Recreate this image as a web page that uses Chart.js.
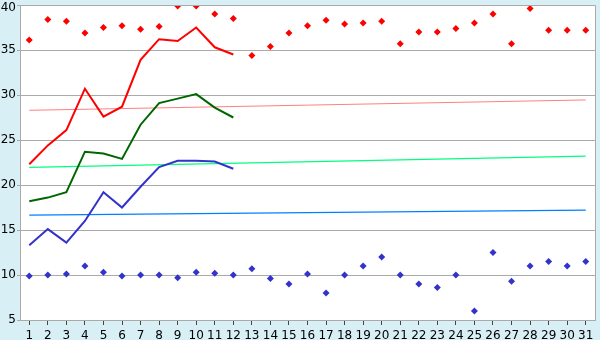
<!DOCTYPE html>
<html>
<head>
<meta charset="utf-8">
<script src="https://cdn.jsdelivr.net/npm/chart.js@4"></script>
<style>
  html, body { margin: 0; padding: 0; background: #d9eff6; }
  #wrap { width: 600px; height: 340px; }
</style>
</head>
<body>
<div id="wrap"><canvas id="myChart" width="600" height="340"></canvas></div>
<script>
const days = ['1','2','3','4','5','6','7','8','9','10','11','12','13','14','15','16','17','18','19','20','21','22','23','24','25','26','27','28','29','30','31'];

// lines (first 12 days)
const redLine   = [22.3, 24.4, 26.1, 30.7, 27.6, 28.7, 33.9, 36.2, 36.0, 37.5, 35.3, 34.5];
const greenLine = [18.2, 18.6, 19.2, 23.7, 23.5, 22.9, 26.7, 29.1, 29.6, 30.1, 28.6, 27.5];
const blueLine  = [13.3, 15.1, 13.6, 16.0, 19.2, 17.5, 19.8, 22.0, 22.7, 22.7, 22.6, 21.8];

// point series (all days)
const redPoints  = [36.1, 38.4, 38.2, 36.9, 37.5, 37.7, 37.3, 37.6, 39.9, 39.9, 39.0, 38.5, 34.4, 35.4, 36.9, 37.7,
                    38.3, 37.9, 38.0, 38.2, 35.7, 37.0, 37.0, 37.4, 38.0, 39.0, 35.7, 39.6, 37.2, 37.2, 37.2];
const bluePoints = [9.9, 10.0, 10.1, 11.0, 10.3, 9.9, 10.0, 10.0, 9.7, 10.3, 10.2, 10.0, 10.7, 9.6, 9.0, 10.1,
                    8.0, 10.0, 11.0, 12.0, 10.0, 9.0, 8.6, 10.0, 6.0, 12.5, 9.3, 11.0, 11.5, 11.0, 11.5];

// trend lines: value at day 1 and day 31
const redTrend   = [28.3, 29.45];
const greenTrend = [21.95, 23.2];
const blueTrend  = [16.65, 17.2];

const yTicks = [5, 10, 15, 20, 25, 30, 35, 40];

function ends(arr) {
  return [{x: days[0], y: arr[0]}, {x: days[days.length - 1], y: arr[1]}];
}

const plotBox = {
  id: 'plotBox',
  beforeDraw(chart) {
    const {ctx, chartArea: a} = chart;
    ctx.save();
    ctx.fillStyle = '#ffffff';
    ctx.fillRect(a.left, a.top, a.right - a.left, a.bottom - a.top);
    ctx.restore();
  },
  afterDraw(chart) {
    const {ctx, chartArea: a} = chart;
    ctx.save();
    ctx.strokeStyle = '#aaaaaa';
    ctx.lineWidth = 1;
    ctx.beginPath();
    ctx.moveTo(a.left, a.top + 0.5);
    ctx.lineTo(a.right + 0.5, a.top + 0.5);
    ctx.lineTo(a.right + 0.5, a.bottom);
    ctx.stroke();
    ctx.restore();
  }
};

const ctx = document.getElementById('myChart');
const topVal = yTicks[yTicks.length - 1];

new Chart(ctx, {
  type: 'line',
  data: {
    labels: days,
    datasets: [
      { data: redPoints, showLine: false, pointStyle: 'rectRot', pointRadius: 3.5,
        pointBackgroundColor: '#ff0000', pointBorderColor: '#ff0000', borderWidth: 0 },
      { data: bluePoints, showLine: false, pointStyle: 'rectRot', pointRadius: 3.5,
        pointBackgroundColor: '#3333cc', pointBorderColor: '#3333cc', borderWidth: 0 },
      { data: redLine, borderColor: '#ff0000', borderWidth: 2, pointRadius: 0, tension: 0 },
      { data: greenLine, borderColor: '#006600', borderWidth: 2, pointRadius: 0, tension: 0 },
      { data: blueLine, borderColor: '#3333cc', borderWidth: 2, pointRadius: 0, tension: 0 },
      { data: ends(redTrend), borderColor: '#ff8080', borderWidth: 1, pointRadius: 0 },
      { data: ends(greenTrend), borderColor: '#00ff80', borderWidth: 1.3, pointRadius: 0 },
      { data: ends(blueTrend), borderColor: '#0080ff', borderWidth: 1.3, pointRadius: 0 }
    ]
  },
  options: {
    responsive: false,
    animation: false,
    layout: { padding: { top: 5, right: 5, left: 0, bottom: 0 } },
    plugins: { legend: { display: false }, tooltip: { enabled: false } },
    scales: {
      x: {
        offset: true,
        grid: { drawOnChartArea: false, drawTicks: true, tickLength: 5, color: '#444444', offset: false },
        border: { color: '#aaaaaa' },
        ticks: { color: '#000', font: { family: 'DejaVu Sans', size: 12 }, padding: 4,
                 maxRotation: 0, autoSkip: false },
        afterFit(scale) { scale.height = 20; scale.paddingLeft = 0; scale.paddingRight = 0; }
      },
      y: {
        min: 5,
        max: 40,
        afterBuildTicks(scale) { scale.ticks = yTicks.map(v => ({ value: v })); },
        grid: { color: '#aaaaaa', tickLength: 3 },
        border: { color: '#aaaaaa' },
        ticks: {
          color: '#000',
          padding: 1,
          // push the top label down a little so it stays inside the canvas
          font: c => ({ family: 'DejaVu Sans', size: 12,
                        lineHeight: (c.tick && c.tick.value === topVal) ? '5px' : 1.2 }),
          callback: v => v === topVal ? ['', String(v)] : String(v)
        },
        afterFit(scale) { scale.width = 20; scale.paddingTop = 0; scale.paddingBottom = 0; }
      }
    }
  },
  plugins: [plotBox]
});
</script>
</body>
</html>
